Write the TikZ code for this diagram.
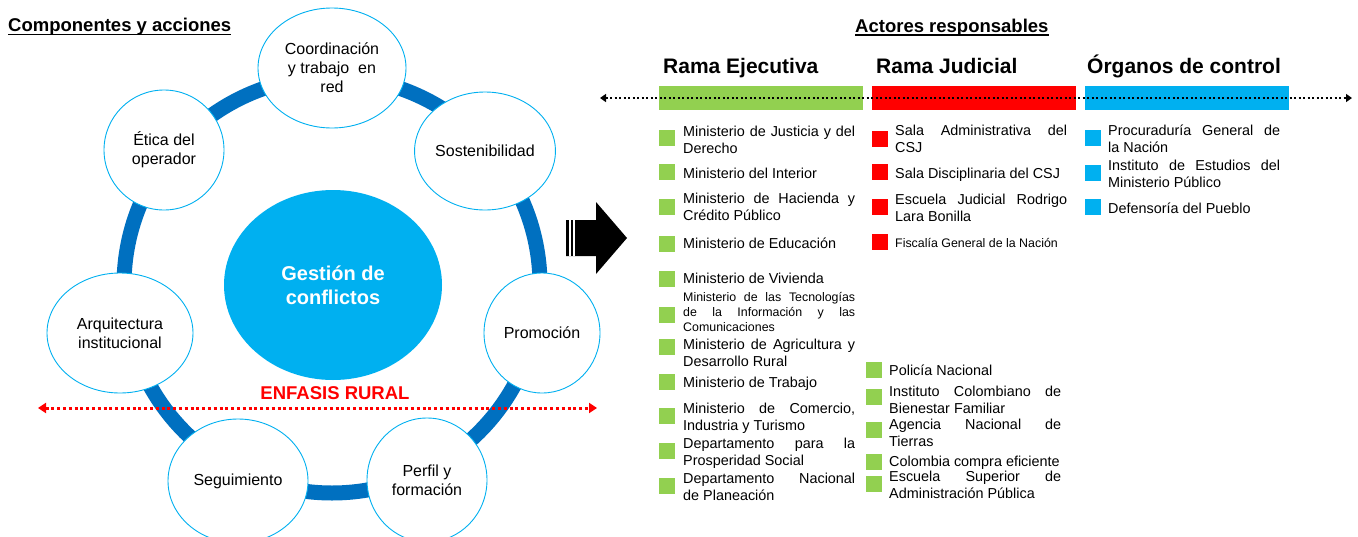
\documentclass[tikz,border=0pt]{standalone}
\usepackage{fontspec}
\setmainfont{Liberation Sans}
\usetikzlibrary{shapes.geometric,arrows.meta,calc}
\definecolor{ringblue}{HTML}{0070C0}
\definecolor{skyblue}{HTML}{00B0F0}
\definecolor{exgreen}{HTML}{92D050}
\definecolor{jured}{HTML}{FF0000}
\newcommand\jl[1]{\makebox[\linewidth][s]{#1}}
\newcommand\itm[1]{\parbox[t]{172pt}{#1}}
\begin{document}
\begin{tikzpicture}[x=1pt,y=-1pt,
  comp/.style={ellipse, draw=skyblue, line width=0.9pt, fill=white, inner sep=0pt, align=center, font=\fontsize{16}{19}\selectfont},
  sq/.style={minimum size=16pt, inner sep=0pt},
  item/.style={anchor=base west, inner sep=0pt, font=\fontsize{14.4}{17}\selectfont},
  smallitem/.style={anchor=base west, inner sep=0pt, font=\fontsize{12.4}{15}\selectfont},
  ttl/.style={anchor=base west, inner sep=0pt, font=\fontsize{18.5}{22}\selectfont\bfseries},
  hdr/.style={anchor=base west, inner sep=0pt, font=\fontsize{21}{25}\selectfont\bfseries},
  bar/.style={minimum width=204pt, minimum height=24pt, inner sep=0pt},
  blackdots/.style={line width=2.5pt, dash pattern=on 2.3pt off 2.2pt, {Triangle[length=6pt,width=8pt]}-{Triangle[length=6pt,width=8pt]}},
  reddots/.style={jured, line width=3pt, dash pattern=on 3pt off 2.8pt, {Triangle[length=8pt,width=10pt]}-{Triangle[length=8pt,width=10pt]}}
]
\clip (0,0) rectangle (1358,536);
\fill[white] (0,0) rectangle (1358,536);

% ---------- left part ----------
\node[ttl] (t1) at (8,31.5) {Componentes y acciones};
\draw[line width=1.6pt] ($(t1.base west)+(0,3)$) -- ($(t1.base east)+(0,3)$);

\draw[ringblue, line width=15pt] (332,285) circle[radius=208pt];

\node[ellipse, fill=skyblue, minimum width=218pt, minimum height=190pt, inner sep=0pt,
      align=center, text=white, font=\fontsize{20}{24}\selectfont\bfseries] (gc) at (333,285) {Gestión de\\conflictos};

\node[comp, minimum width=148pt, minimum height=120pt] (coord) at (332,68) {Coordinación\\y trabajo\ \ en\\red};
\node[comp, minimum width=120pt, minimum height=120pt] (etica) at (164,150) {Ética del\\operador};
\node[comp, minimum width=135pt, minimum height=118pt] (sost) at (485,151) {Sostenibilidad};
\node[comp, minimum width=146pt, minimum height=120pt] (arq) at (120,333) {Arquitectura\\institucional};
\node[comp, minimum width=116pt, minimum height=120pt] (prom) at (542,333) {Promoción};
\node[comp, minimum width=140pt, minimum height=124pt] (seg) at (238,481) {Seguimiento};
\node[comp, minimum width=120pt, minimum height=124pt] (perf) at (427,480) {Perfil y\\formación};

\node[inner sep=0pt, text=jured, font=\fontsize{18.5}{22}\selectfont\bfseries] (enf) at (335,393) {ENFASIS RURAL};
\coordinate (rl) at (38,408);
\coordinate (rr) at (597,408);
\draw[reddots] (rl) -- (rr);

% ---------- arrow ----------
\fill[black] (566,220) -- (596,220) -- (596,202) -- (627,238) -- (596,274) -- (596,256) -- (566,256) -- cycle;
\draw[white, line width=1.2pt] (570,220) -- (570,256);
\draw[white, line width=1.2pt] (574,220) -- (574,256);

% ---------- right part ----------
\node[ttl] (t2) at (855,32) {Actores responsables};
\draw[line width=1.6pt] ($(t2.base west)+(0,3)$) -- ($(t2.base east)+(0,3)$);

\node[hdr] (hE) at (663,73.5) {Rama Ejecutiva};
\node[hdr] (hJ) at (876,73.5) {Rama Judicial};
\node[hdr] (hC) at (1087,73.5) {Órganos de control};

\node[bar, fill=exgreen] (bE) at (761,98) {};
\node[bar, fill=jured] (bJ) at (974,98) {};
\node[bar, fill=skyblue] (bC) at (1186.5,98) {};
\coordinate (dl) at (600,98);
\coordinate (dr) at (1352,98);
\draw[blackdots] (dl) -- (dr);

% Rama Ejecutiva, column 1
\foreach \yy [count=\i] in {138,172,207,244,279,315,347,382,416,451,486}
  \node[sq, fill=exgreen] (sqe\i) at (667,\yy) {};
\node[item] (e1) at (683,136) {\itm{\jl{Ministerio de Justicia y del}\\Derecho}};
\node[item] (e2) at (683,178) {\itm{Ministerio del Interior}};
\node[item] (e3) at (683,203) {\itm{\jl{Ministerio de Hacienda y}\\Crédito Público}};
\node[item] (e4) at (683,248) {\itm{Ministerio de Educación}};
\node[item] (e5) at (683,283) {\itm{Ministerio de Vivienda}};
\node[smallitem] (e6) at (683,301.5) {\itm{\jl{Ministerio de las Tecnologías}\\\jl{de la Información y las}\\Comunicaciones}};
\node[item] (e7) at (683,349.5) {\itm{\jl{Ministerio de Agricultura y}\\Desarrollo Rural}};
\node[item] (e8) at (683,387) {\itm{Ministerio de Trabajo}};
\node[item] (e9) at (683,413) {\itm{\jl{Ministerio de Comercio,}\\Industria y Turismo}};
\node[item] (e10) at (683,448) {\itm{\jl{Departamento para la}\\Prosperidad Social}};
\node[item] (e11) at (683,483) {\itm{\jl{Departamento Nacional}\\de Planeación}};

% Rama Judicial
\foreach \yy [count=\i] in {139,172,207,242}
  \node[sq, fill=jured] (sqj\i) at (880,\yy) {};
\node[item] (j1) at (895,135.5) {\itm{\jl{Sala Administrativa del}\\CSJ}};
\node[item] (j2) at (895,178.5) {\itm{Sala Disciplinaria del CSJ}};
\node[item] (j3) at (895,204.5) {\itm{\jl{Escuela Judicial Rodrigo}\\Lara Bonilla}};
\node[smallitem] (j4) at (895,247) {\itm{Fiscalía General de la Nación}};

% Rama Ejecutiva, column 2
\foreach \yy [count=\i] in {370,397,430,462,484}
  \node[sq, fill=exgreen] (sqg\i) at (874,\yy) {};
\node[item] (g1) at (889,375) {\itm{Policía Nacional}};
\node[item] (g2) at (889,396) {\itm{\jl{Instituto Colombiano de}\\Bienestar Familiar}};
\node[item] (g3) at (889,429) {\itm{\jl{Agencia Nacional de}\\Tierras}};
\node[item] (g4) at (889,466) {\itm{Colombia compra eficiente}};
\node[item] (g5) at (889,481) {\itm{\jl{Escuela Superior de}\\Administración Pública}};

% Organos de control
\foreach \yy [count=\i] in {138,173,207}
  \node[sq, fill=skyblue] (sqc\i) at (1093,\yy) {};
\node[item] (c1) at (1108,135) {\itm{\jl{Procuraduría General de}\\la Nación}};
\node[item] (c2) at (1108,170) {\itm{\jl{Instituto de Estudios del}\\Ministerio Público}};
\node[item] (c3) at (1108,213) {\itm{Defensoría del Pueblo}};
\end{tikzpicture}
\end{document}
